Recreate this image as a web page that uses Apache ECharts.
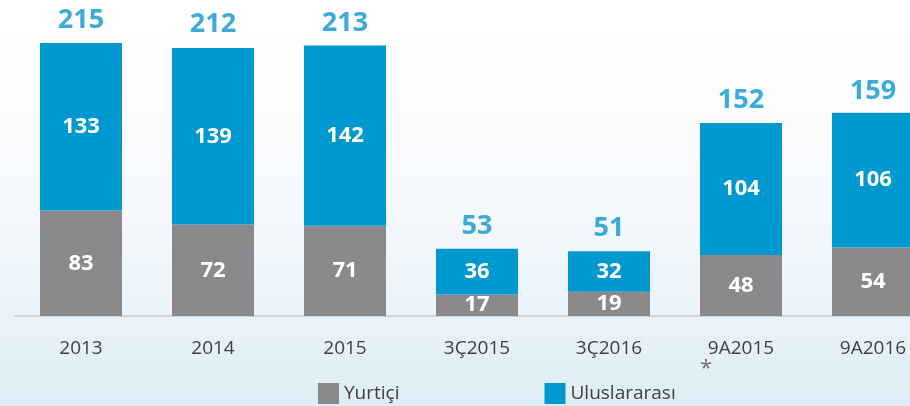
<!DOCTYPE html>
<html>
<head>
<meta charset="utf-8">
<script src="https://cdn.jsdelivr.net/npm/echarts@6/dist/echarts.min.js"></script>
<style>
  html, body { margin: 0; padding: 0; }
  #main { width: 910px; height: 406px; }
</style>
</head>
<body>
<div id="main"></div>
<script>
var categories = ["2013", "2014", "2015", "3Ç2015", "3Ç2016", "9A2015", "9A2016"];
var yurtici = [83, 72, 71, 17, 19, 48, 54];
var uluslararasi = [133, 139, 142, 36, 32, 104, 106];
var totals = [215, 212, 213, 53, 51, 152, 159];

var grey = "#8a8a8c";
var blue = "#0099cf";
var font = "Open Sans";

var myChart = echarts.init(document.getElementById("main"));

var option = {
  backgroundColor: {
    type: "linear", x: 0, y: 0, x2: 0, y2: 1,
    colorStops: [
      { offset: 0, color: "#ffffff" },
      { offset: 0.5, color: "#f6f9fc" },
      { offset: 1, color: "#deedf6" }
    ]
  },
  grid: { left: 15, width: 924, top: 43, bottom: 90, outerBoundsMode: "none", containLabel: false },
  legend: {
    left: 313,
    top: 378,
    icon: "rect",
    itemWidth: 21,
    itemHeight: 21,
    itemGap: 145,
    textStyle: { fontFamily: font, fontSize: 19, color: "#404040" },
    data: ["Yurtiçi", "Uluslararası"]
  },
  xAxis: {
    type: "category",
    data: categories,
    axisLine: { lineStyle: { color: "#d4d4d4", width: 2 } },
    axisTick: { show: false },
    axisLabel: { fontFamily: font, fontSize: 19, color: "#404040", margin: 23 }
  },
  yAxis: {
    type: "value",
    min: 0,
    max: 215,
    show: false,
    splitLine: { show: false }
  },
  series: [
    {
      name: "Yurtiçi",
      type: "bar",
      stack: "t",
      barWidth: 82,
      data: yurtici,
      itemStyle: { color: grey },
      label: {
        show: true,
        position: "inside",
        color: "#fff",
        fontFamily: font,
        fontWeight: "bold",
        fontSize: 22
      }
    },
    {
      name: "Uluslararası",
      type: "bar",
      stack: "t",
      barWidth: 82,
      data: uluslararasi,
      itemStyle: { color: blue },
      label: {
        show: true,
        position: "inside",
        color: "#fff",
        fontFamily: font,
        fontWeight: "bold",
        fontSize: 22
      }
    },
    {
      name: "Toplam",
      type: "scatter",
      data: totals,
      symbolSize: 0,
      silent: true,
      label: {
        show: true,
        position: "top",
        distance: 9,
        color: "#0b96d1",
        fontFamily: font,
        fontWeight: "bold",
        fontSize: 27
      }
    }
  ],
  graphic: [
    {
      type: "text",
      left: 700,
      top: 358,
      style: { text: "*", fontFamily: font, fontSize: 22, fill: "#707070" }
    }
  ]
};

myChart.setOption(option);
</script>
</body>
</html>
